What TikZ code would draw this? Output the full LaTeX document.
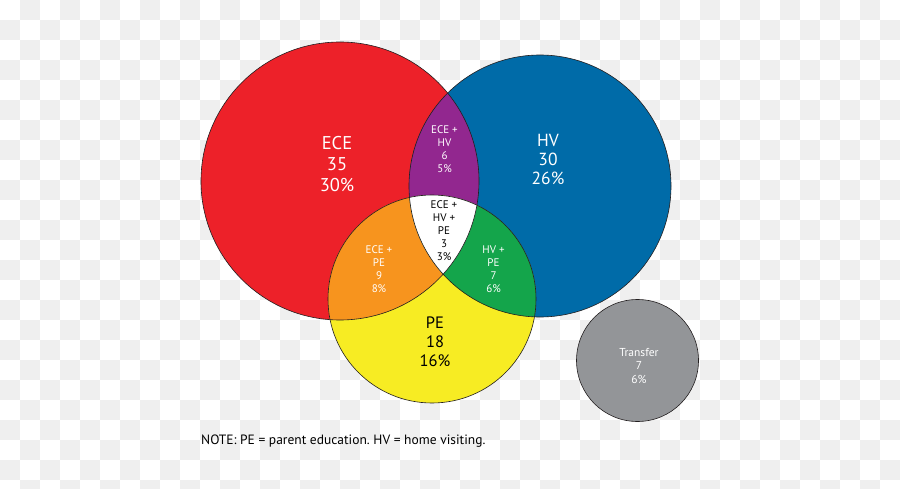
\documentclass[tikz,border=0pt]{standalone}
\usepackage{fontspec}
\setmainfont{PT Sans}
\frenchspacing
\definecolor{checkgray}{HTML}{EFEFEF}
\definecolor{ececol}{HTML}{ED2129}
\definecolor{hvcol}{HTML}{006BA8}
\definecolor{pecol}{HTML}{F7EC23}
\definecolor{ecehvcol}{HTML}{92278F}
\definecolor{ecepecol}{HTML}{F7941E}
\definecolor{hvpecol}{HTML}{14A54B}
\definecolor{trcol}{HTML}{939598}
\definecolor{edgecol}{HTML}{231F20}
\tikzset{
  outline/.style={draw=edgecol, line width=0.6pt},
  biglab/.style={align=center, text=white, font=\fontsize{18.5}{21}\selectfont},
  hvlab/.style={align=center, text=white, font=\fontsize{17.5}{19}\selectfont},
  pelab/.style={align=center, text=black, font=\fontsize{16.5}{19}\selectfont},
  smalllab/.style={align=center, text=white, font=\fontsize{11}{13}\selectfont},
  trlab/.style={align=center, text=white, font=\fontsize{11.5}{13.3}\selectfont},
  notelab/.style={anchor=west, text=black, font=\fontsize{13.5}{15}\selectfont, inner sep=0pt}
}
\begin{document}
\begin{tikzpicture}[x=1pt,y=-1pt]
\useasboundingbox (0,0) rectangle (900,489);
\clip (0,0) rectangle (900,489);
\fill[white] (0,0) rectangle (900,489);
\foreach \i in {0,...,44}{
  \foreach \j in {0,...,24}{
    \pgfmathtruncatemacro{\odd}{mod(\i+\j,2)}
    \ifnum\odd=1 \fill[checkgray] (\i*20,\j*20) rectangle ++(20,20); \fi
  }
}
\coordinate (ece) at (340,181);
\coordinate (hv) at (540,186);
\coordinate (pe) at (432,299);
\coordinate (tr) at (637.5,360.5);
% base fills
\fill[ececol] (ece) circle (139pt);
\fill[hvcol] (hv) circle (131pt);
\fill[pecol] (pe) circle (104pt);
\begin{scope}
  \clip (ece) circle (139pt);
  \fill[ecehvcol] (hv) circle (131pt);
  \fill[ecepecol] (pe) circle (104pt);
\end{scope}
\begin{scope}
  \clip (hv) circle (131pt);
  \fill[hvpecol] (pe) circle (104pt);
\end{scope}
\begin{scope}
  \clip (ece) circle (139pt);
  \clip (hv) circle (131pt);
  \fill[white] (pe) circle (104pt);
\end{scope}
\draw[outline] (ece) circle (139pt);
\draw[outline] (hv) circle (131pt);
\draw[outline] (pe) circle (104pt);
\filldraw[fill=trcol, outline] (tr) circle (61pt);
% labels
\node[biglab] (lece) at (337,164) {ECE\\35\\30\%};
\node[hvlab] (lhv) at (548,159) {HV\\30\\26\%};
\node[smalllab] (lecehv) at (444.5,149) {ECE +\\HV\\6\\5\%};
\node[smalllab, text=black] (lall) at (444,231) {ECE +\\HV +\\PE\\3\\3\%};
\node[smalllab] (lecepe) at (379,269) {ECE +\\PE\\9\\8\%};
\node[smalllab] (lhvpe) at (493.5,269) {HV +\\PE\\7\\6\%};
\node[pelab] (lpe) at (435,342) {PE\\18\\16\%};
\node[trlab] (ltr) at (639,366) {Transfer\\7\\6\%};
\node[notelab] (note) at (201,441) {NOTE: PE = parent education. HV = home visiting.};
\end{tikzpicture}
\end{document}
